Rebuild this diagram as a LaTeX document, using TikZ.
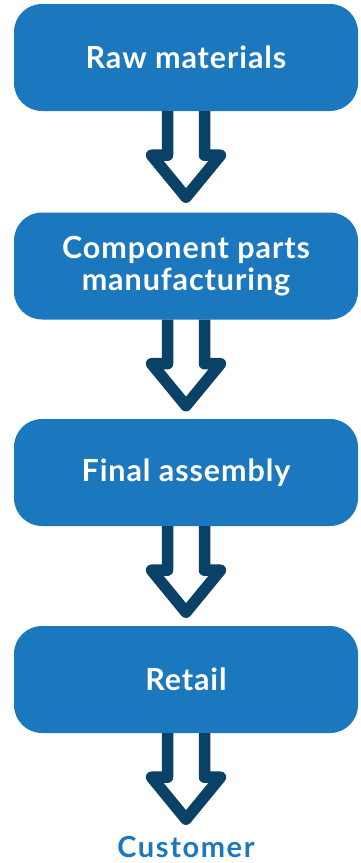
\documentclass[tikz,border=0pt]{standalone}
\usepackage{fontspec}
\setmainfont{Lato}
\definecolor{boxblue}{HTML}{1B77BE}
\definecolor{arrownavy}{HTML}{0A4166}
\tikzset{
  stage/.style={draw=none, fill=boxblue, rounded corners=28pt,
    minimum width=344pt, minimum height=107pt, inner sep=0pt,
    text=white, align=center,
    font=\bfseries\fontsize{30.5}{32}\selectfont\addfontfeature{LetterSpace=3}},
  flowarrow/.style={draw=arrownavy, line width=11.5pt, line join=round, line cap=butt}
}
% hollow block arrow hanging below a node; #1 = source node, #2 = name of its tip
\newcommand\blockarrow[2]{%
  \draw[flowarrow] ([xshift=-18.5pt]#1.south) -- ++(0,-44pt) -- ++(-16pt,0)
    -- ++(34.5pt,-42pt) coordinate (#2) -- ++(34.5pt,42pt) -- ++(-16pt,0)
    -- ([xshift=18.5pt]#1.south);}
\begin{document}
\begin{tikzpicture}[x=1pt,y=1pt]
\useasboundingbox (0,0) rectangle (360,-863);
\node[stage] (raw) at (186,-57.5) {Raw materials};
\node[stage] (parts) at (186,-266) {Component parts\\manufacturing};
\node[stage] (assembly) at (186,-472.5) {Final assembly};
\node[stage] (retail) at (186,-679.5) {Retail};
\node[anchor=base, inner sep=0pt, text=boxblue,
  font=\bfseries\fontsize{29}{30}\selectfont\addfontfeature{LetterSpace=5.5}] (customer) at (186,-857) {Customer};
\blockarrow{raw}{tipA}
\blockarrow{parts}{tipB}
\blockarrow{assembly}{tipC}
\blockarrow{retail}{tipD}
\end{tikzpicture}
\end{document}
